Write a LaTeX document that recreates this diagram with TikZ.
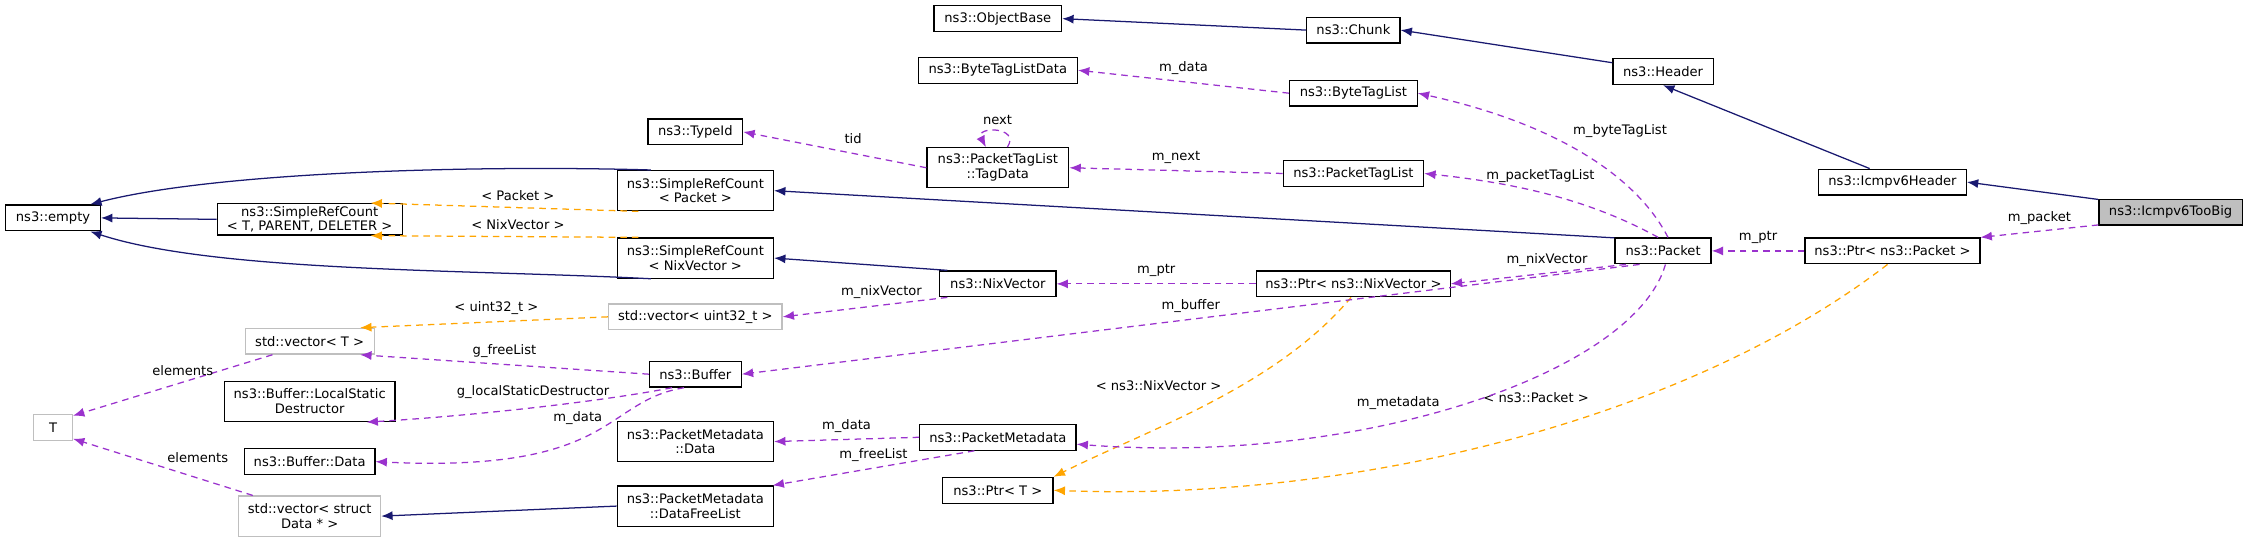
\documentclass[tikz,border=0pt]{standalone}
\usepackage{fontspec}
\setmainfont{DejaVu Sans}
\usetikzlibrary{arrows.meta}
\definecolor{inhcol}{HTML}{191970}
\definecolor{usecol}{HTML}{9A32CD}
\definecolor{tplcol}{HTML}{FFA500}
\definecolor{grcol}{HTML}{BFBFBF}

\tikzset{
  box/.style={draw=black, fill=white, line width=0.5pt, inner sep=1pt, minimum height=0.36cm, align=center, font=\fontsize{5.2}{5.9}\selectfont},
  tbox/.style={box, minimum height=0.56cm},
  gbox/.style={box, draw=grcol},
  inh/.style={draw=inhcol, line width=0.5pt, -{Latex[length=4.5pt,width=3.6pt]}},
  use/.style={draw=usecol, line width=0.5pt, dash pattern=on 2.6pt off 2pt, -{Latex[length=4.5pt,width=3.6pt]}},
  tpl/.style={draw=tplcol, line width=0.5pt, dash pattern=on 2.6pt off 2pt, -{Latex[length=4.5pt,width=3.6pt]}},
  lbl/.style={font=\fontsize{5.2}{5.9}\selectfont, inner sep=1.5pt}
}

\begin{document}
\begin{tikzpicture}[x=0.02cm, y=-0.02cm]
  \useasboundingbox (0,0) rectangle (1568,375);

  % left column
  \node[box, minimum width=1.32cm] (empty) at (37,152) {ns3::empty};
  \node[gbox, minimum width=0.54cm] (T) at (37,298) {T};
  \node[box, minimum width=2.58cm] (srcT) at (216,153) {ns3::SimpleRefCount\\< T, PARENT, DELETER >};
  \node[gbox, minimum width=1.80cm] (vecT) at (216,238) {std::vector< T >};
  \node[box, minimum width=2.38cm, minimum height=0.56cm] (lsd) at (216,280) {ns3::Buffer::LocalStatic\\Destructor};
  \node[box, minimum width=1.82cm] (bufdata) at (216,322) {ns3::Buffer::Data};
  \node[gbox, minimum width=1.98cm, minimum height=0.56cm] (vecstruct) at (216,360) {std::vector< struct\\Data * >};

  % second column
  \node[box, minimum width=1.32cm] (typeid) at (485,92) {ns3::TypeId};
  \node[tbox, minimum width=2.18cm] (srcpkt) at (485,133) {ns3::SimpleRefCount\\< Packet >};
  \node[tbox, minimum width=2.18cm] (srcnix) at (485,180) {ns3::SimpleRefCount\\< NixVector >};
  \node[gbox, minimum width=2.42cm] (vec32) at (485,221) {std::vector< uint32\_t >};
  \node[box, minimum width=1.28cm] (buffer) at (485,261) {ns3::Buffer};
  \node[tbox, minimum width=2.18cm] (pmdata) at (485,308) {ns3::PacketMetadata\\::Data};
  \node[tbox, minimum width=2.18cm] (pmfree) at (485,353) {ns3::PacketMetadata\\::DataFreeList};

  % third column
  \node[box, minimum width=1.78cm] (objbase) at (696,13) {ns3::ObjectBase};
  \node[box, minimum width=2.22cm] (btldata) at (696,49) {ns3::ByteTagListData};
  \node[tbox, minimum width=1.98cm] (tagdata) at (696,117) {ns3::PacketTagList\\::TagData};
  \node[box, minimum width=1.62cm] (nixvec) at (696,198) {ns3::NixVector};
  \node[box, minimum width=2.18cm] (pmeta) at (696,305) {ns3::PacketMetadata};
  \node[box, minimum width=1.54cm] (ptrT) at (696,342) {ns3::Ptr< T >};

  % fourth column
  \node[box, minimum width=1.30cm] (chunk) at (944,21) {ns3::Chunk};
  \node[box, minimum width=1.78cm] (btl) at (944,65) {ns3::ByteTagList};
  \node[box, minimum width=1.96cm] (ptl) at (944,121) {ns3::PacketTagList};
  \node[box, minimum width=2.70cm] (ptrnix) at (944,198) {ns3::Ptr< ns3::NixVector >};

  % right part
  \node[box, minimum width=1.40cm] (header) at (1160,50) {ns3::Header};
  \node[box, minimum width=1.34cm] (packet) at (1160,175) {ns3::Packet};
  \node[box, minimum width=2.06cm] (icmph) at (1320,127) {ns3::Icmpv6Header};
  \node[box, minimum width=2.44cm] (ptrpkt) at (1320,175) {ns3::Ptr< ns3::Packet >};
  \node[box, minimum width=2.00cm, fill=grcol] (toobig) at (1514,148) {ns3::Icmpv6TooBig};

  % inheritance
  \draw[inh] (chunk.west) -- (objbase.east);
  \draw[inh] (header.170) -- (chunk.east);
  \draw[inh] (icmph.north west) ++(36,0) -- (header.south);
  \draw[inh] (toobig.170) -- (icmph.east);
  \draw[inh] (srcT.west) -- (empty.east);
  \draw[inh] (srcpkt.155) .. controls (330,115) and (150,120) .. (empty.20);
  \draw[inh] (srcnix.205) .. controls (330,188) and (150,190) .. (empty.-20);
  \draw[inh] (packet.165) -- (srcpkt.east);
  \draw[inh] (nixvec.165) -- (srcnix.east);
  \draw[inh] (pmfree.west) -- (vecstruct.east);

  % templates
  \draw[tpl] (srcpkt.200) -- node[lbl, above=1pt, pos=0.45] {< Packet >} (srcT.15);
  \draw[tpl] (srcnix.160) -- node[lbl, above=1pt, pos=0.45] {< NixVector >} (srcT.-15);
  \draw[tpl] (vec32.west) -- node[lbl, above=1pt, pos=0.45] {< uint32\_t >} (vecT.15);
  \draw[tpl] (ptrnix.-100) .. controls (890,270) and (800,300) .. node[lbl, pos=0.4, left=6pt] {< ns3::NixVector >} (ptrT.north east);
  \draw[tpl] (ptrpkt.-110) .. controls (1180,290) and (950,350) .. node[lbl, pos=0.4, above left=2pt] {< ns3::Packet >} (ptrT.east);

  % usage
  \draw[use] (toobig.-170) -- node[lbl, above=1pt, pos=0.5] {m\_packet} (ptrpkt.north east);
  \draw[use] (ptrpkt.west) -- node[lbl, above=1pt] {m\_ptr} (packet.east);
  \draw[use] (btl.west) -- node[lbl, above=1pt, pos=0.5] {m\_data} (btldata.east);
  \draw[use] (packet.70) .. controls (1140,120) and (1080,85) .. node[lbl, pos=0.55, above right=1pt] {m\_byteTagList} (btl.east);
  \draw[use] (packet.110) .. controls (1110,140) and (1060,128) .. node[lbl, pos=0.55, above=2pt] {m\_packetTagList} (ptl.east);
  \draw[use] (ptl.west) -- node[lbl, above=1pt] {m\_next} (tagdata.east);
  \draw[use] (tagdata.west) -- node[lbl, above=2pt, pos=0.4] {tid} (typeid.east);
  \draw[use] (tagdata.65) .. controls (712,88) and (680,88) .. node[lbl, above=1pt] {next} (tagdata.120);
  \draw[use] (packet.200) -- node[lbl, above=1pt, pos=0.45] {m\_nixVector} (ptrnix.east);
  \draw[use] (ptrnix.west) -- node[lbl, above=1pt] {m\_ptr} (nixvec.east);
  \draw[use] (nixvec.195) -- node[lbl, above=1pt, pos=0.4] {m\_nixVector} (vec32.east);
  \draw[use] (packet.-150) -- node[lbl, above=1pt, pos=0.5] {m\_buffer} (buffer.east);
  \draw[use] (packet.-80) .. controls (1140,260) and (950,325) .. node[lbl, pos=0.6, above=3pt] {m\_metadata} (pmeta.-5);
  \draw[use] (buffer.west) -- node[lbl, above=1pt, pos=0.5] {g\_freeList} (vecT.-15);
  \draw[use] (buffer.-150) .. controls (420,280) and (330,290) .. node[lbl, above=2pt, pos=0.5] {g\_localStaticDestructor} (lsd.-20);
  \draw[use] (buffer.-130) .. controls (420,280) and (430,330) .. node[lbl, pos=0.55, above=4pt] {m\_data} (bufdata.east);
  \draw[use] (vecT.-160) -- node[lbl, above=1pt, pos=0.45] {elements} (T.30);
  \draw[use] (vecstruct.160) -- node[lbl, above right, pos=0.5] {elements} (T.-30);
  \draw[use] (pmeta.west) -- node[lbl, above=1pt] {m\_data} (pmdata.east);
  \draw[use] (pmeta.-150) -- node[lbl, above=1pt, pos=0.5] {m\_freeList} (pmfree.15);
\end{tikzpicture}
\end{document}
